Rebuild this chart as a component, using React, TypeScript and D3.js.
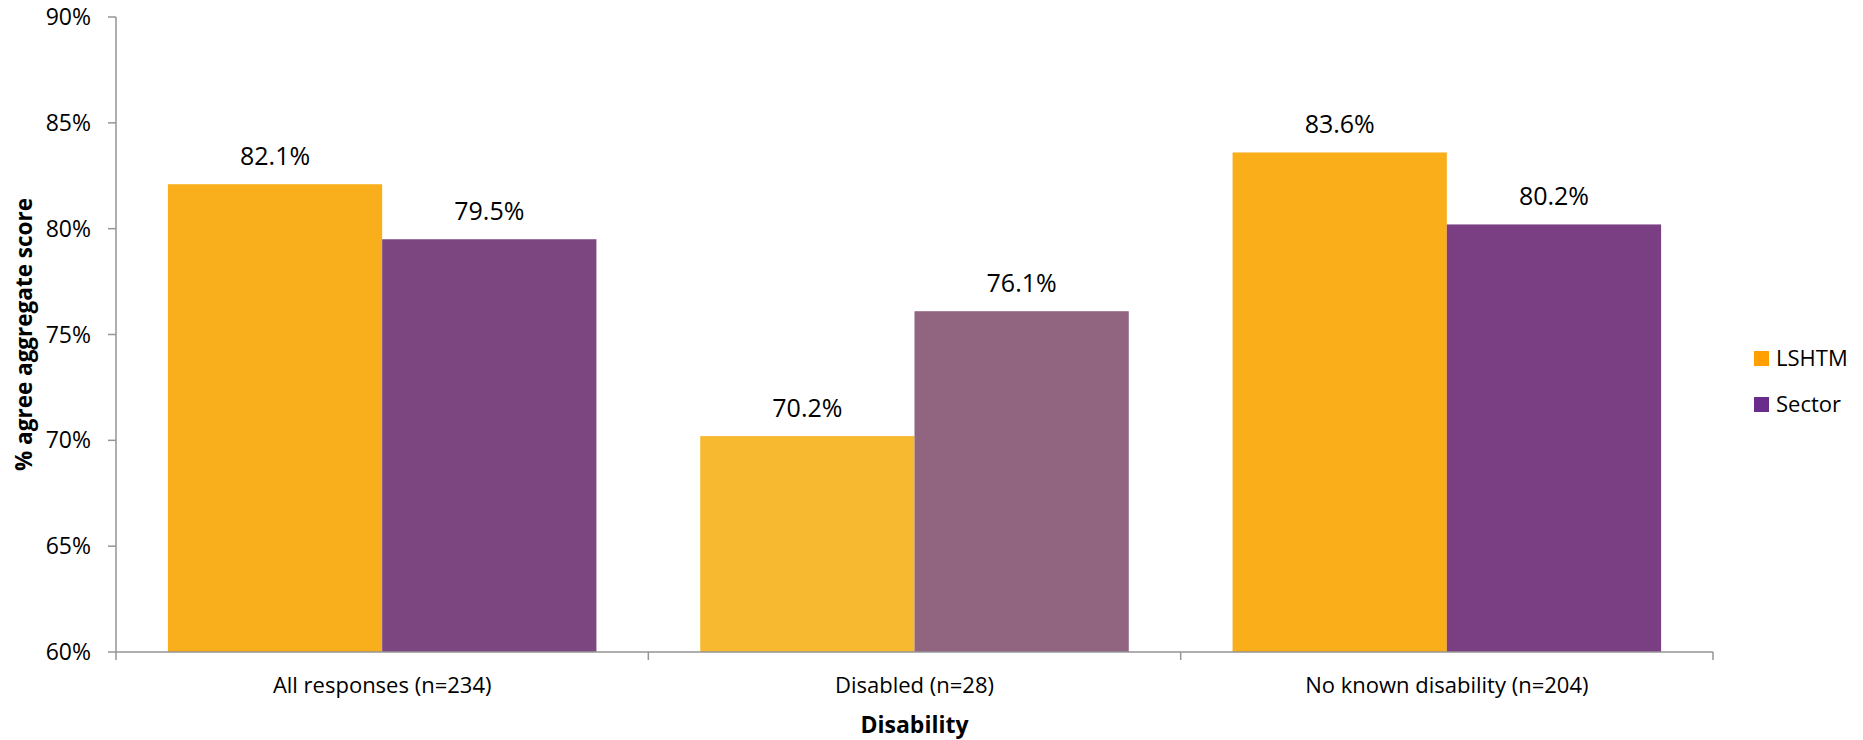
import React from "react";
import * as d3 from "d3";

const categories = ["All responses (n=234)", "Disabled (n=28)", "No known disability (n=204)"];
const seriesNames = ["LSHTM", "Sector"];
const lshtmValues = [82.1, 70.2, 83.6];
const sectorValues = [79.5, 76.1, 80.2];
const yTicks = [60, 65, 70, 75, 80, 85, 90];

const barColors = [
  ["#F9AF1C", "#7C4680"],
  ["#F6B92F", "#91647F"],
  ["#F9AE1A", "#793F82"],
];
const legendColors = ["#FFA000", "#6A2C8A"];

const W = 1863;
const H = 740;
const left = 116;
const right = 1713;
const top = 17;
const bottom = 652;
const FONT = "'Open Sans', sans-serif";

export default function App() {
  const x0 = d3.scaleBand<string>().domain(categories).range([left, right]).paddingInner(0.195).paddingOuter(0.0975);
  const x1 = d3.scaleBand<string>().domain(seriesNames).range([0, x0.bandwidth()]);
  const y = d3.scaleLinear().domain([60, 90]).range([bottom, top]);
  const xTickScale = d3.scaleLinear().domain([0, categories.length]).range([left, right]);
  const values = [lshtmValues, sectorValues];

  return (
    <svg width={W} height={H} style={{ position: "absolute", left: 0, top: 0, background: "#fff" }} fontFamily={FONT}>
      {/* bars */}
      {categories.map((c, ci) =>
        seriesNames.map((s, si) => {
          const v = values[si][ci];
          const bx = (x0(c) as number) + (x1(s) as number);
          return (
            <g key={c + s}>
              <rect x={bx} y={y(v)} width={x1.bandwidth()} height={y(60) - y(v)} fill={barColors[ci][si]} />
              <text x={bx + x1.bandwidth() / 2} y={y(v) - 19} textAnchor="middle" fontSize={25} fill="#000">
                {v.toFixed(1) + "%"}
              </text>
            </g>
          );
        })
      )}
      {/* y axis */}
      <line x1={left} x2={left} y1={top} y2={bottom} stroke="#959595" strokeWidth={1.5} />
      {yTicks.map((t) => (
        <g key={t}>
          <line x1={left - 8} x2={left} y1={y(t)} y2={y(t)} stroke="#959595" strokeWidth={1.5} />
          <text x={left - 25} y={y(t) + 8} textAnchor="end" fontSize={23} fill="#000">
            {t + "%"}
          </text>
        </g>
      ))}
      {/* x axis */}
      <line x1={left} x2={right} y1={bottom} y2={bottom} stroke="#959595" strokeWidth={1.5} />
      {d3.range(categories.length + 1).map((i) => (
        <line key={i} x1={xTickScale(i)} x2={xTickScale(i)} y1={bottom} y2={bottom + 8} stroke="#959595" strokeWidth={1.5} />
      ))}
      {categories.map((c) => (
        <text key={c} x={(x0(c) as number) + x0.bandwidth() / 2} y={693} textAnchor="middle" fontSize={22} fill="#000">
          {c}
        </text>
      ))}
      <text x={(left + right) / 2} y={733} textAnchor="middle" fontSize={23} fontWeight="bold" fill="#000">
        Disability
      </text>
      <text transform={`translate(32, ${(top + bottom) / 2}) rotate(-90)`} textAnchor="middle" fontSize={22.5} fontWeight="bold" fill="#000">
        % agree aggregate score
      </text>
      {/* legend */}
      {seriesNames.map((s, i) => (
        <g key={s} transform={`translate(1754, ${351 + i * 46})`}>
          <rect x={0} y={0} width={15} height={15} fill={legendColors[i]} />
          <text x={22} y={15} fontSize={22} fill="#000">
            {s}
          </text>
        </g>
      ))}
    </svg>
  );
}
